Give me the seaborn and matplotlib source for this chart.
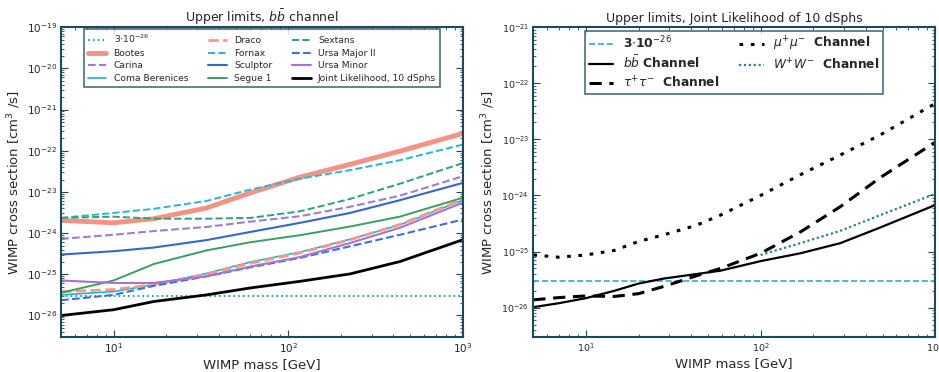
"""Upper limits on the WIMP annihilation cross section from dwarf spheroidals."""
import matplotlib
matplotlib.use("Agg")
import matplotlib.pyplot as plt
import numpy as np
import seaborn as sns

sns.set_style("white")
plt.rcParams["font.family"] = ["DejaVu Sans"]

# Values are log10(<sigma v> / cm^3 s^-1).
THERMAL_XS = 3e-26

MASS_L = [5, 10, 17, 34, 61, 117, 226, 436, 1000]
BOOTES = [-23.69, -23.75, -23.65, -23.39, -23.02, -22.64, -22.33, -22.01, -21.58]
CARINA = [-24.14, -24.04, -23.95, -23.85, -23.72, -23.59, -23.36, -23.09, -22.62]
COMA = [-25.50, -25.42, -25.25, -24.98, -24.70, -24.46, -24.15, -23.80, -23.20]
DRACO = [-25.42, -25.37, -25.25, -25.00, -24.73, -24.48, -24.16, -23.79, -23.18]
FORNAX = [-23.63, -23.51, -23.41, -23.22, -22.94, -22.68, -22.47, -22.23, -21.85]
SCULPTOR = [-24.52, -24.44, -24.35, -24.17, -23.97, -23.75, -23.51, -23.20, -22.78]
SEGUE1 = [-25.45, -25.15, -24.75, -24.42, -24.22, -24.05, -23.84, -23.60, -23.14]
SEXTANS = [-23.63, -23.60, -23.65, -23.65, -23.63, -23.47, -23.17, -22.80, -22.30]
UMA2 = [-25.63, -25.50, -25.28, -25.05, -24.83, -24.60, -24.32, -24.04, -23.67]
UMI = [-25.15, -25.21, -25.21, -25.05, -24.81, -24.58, -24.24, -23.87, -23.26]
JOINT = [-26.00, -25.86, -25.66, -25.50, -25.33, -25.17, -24.99, -24.69, -24.16]

MASS_R = [5, 7, 10, 14.5, 20, 28, 43, 59, 100, 169, 286, 485, 1000]
BB = [-25.99, -25.92, -25.83, -25.70, -25.57, -25.48, -25.40, -25.34, -25.17,
      -25.03, -24.85, -24.57, -24.17]
TAUTAU = [-25.86, -25.82, -25.79, -25.80, -25.75, -25.62, -25.43, -25.30, -25.03,
          -24.65, -24.20, -23.68, -23.05]
MUMU = [-25.06, -25.10, -25.06, -24.98, -24.82, -24.70, -24.53, -24.35, -24.00,
        -23.63, -23.28, -22.92, -22.36]
MASS_WW = [100, 169, 286, 485, 1000]
WW = [-25.06, -24.85, -24.63, -24.35, -23.97]

# (label, values, color, linestyle, linewidth)
DSPHS = [
    ("Bootes", BOOTES, "#f2806e", "-", 3.5),
    ("Carina", CARINA, "#9b7fd6", "--", 1.5),
    ("Coma Berenices", COMA, "#22b3c6", "-", 1.2),
    ("Draco", DRACO, "#f49a88", "--", 2.0),
    ("Fornax", FORNAX, "#25b7d9", "--", 1.4),
    ("Sculptor", SCULPTOR, "#3566d1", "-", 1.5),
    ("Segue 1", SEGUE1, "#3c9e62", "-", 1.4),
    ("Sextans", SEXTANS, "#2ea275", "--", 1.4),
    ("Ursa Major II", UMA2, "#3f6fdc", "--", 1.5),
    ("Ursa Minor", UMI, "#a374d4", "-", 1.5),
    ("Joint Likelihood, 10 dSphs", JOINT, "black", "-", 2.0),
]

SPINE = "#1d4a58"


def style_axes(ax, ylim, tick_size):
    ax.set_xscale("log")
    ax.set_yscale("log")
    ax.set_xlim(5, 1000)
    ax.set_ylim(*ylim)
    ax.tick_params(which="both", direction="in", bottom=True, left=True,
                   top=True, right=True, labelsize=tick_size, color=SPINE,
                   pad=3)
    ax.tick_params(which="major", length=5, width=0.8)
    ax.tick_params(which="minor", length=2.5, width=0.6)
    for s in ax.spines.values():
        s.set_color(SPINE)
        s.set_linewidth(1.5)
    ax.set_xlabel("WIMP mass [GeV]", fontsize=9.5, labelpad=2)
    ax.set_ylabel("WIMP cross section [cm$^3$ /s]", fontsize=9.5, labelpad=3)


fig = plt.figure(figsize=(9.39, 3.72), dpi=100)
ax1 = fig.add_axes([0.065, 0.094, 0.428, 0.833])
ax2 = fig.add_axes([0.568, 0.094, 0.428, 0.833])

# ---- left: individual dSphs, b-bbar channel
ax1.set_xscale("log")
ax1.set_yscale("log")
ax1.axhline(THERMAL_XS, color="#1fa0a0", linestyle=":", linewidth=1.3,
            label=r"3$\cdot$10$^{-26}$")
for label, vals, color, ls, lw in DSPHS:
    sns.lineplot(x=MASS_L, y=10.0 ** np.array(vals), ax=ax1, color=color,
                 linestyle=ls, linewidth=lw, label=label,
                 alpha=0.85 if label == "Bootes" else 1.0)
style_axes(ax1, (3e-27, 1e-19), 7.5)
ax1.set_title(r"Upper limits, $b\bar{b}$ channel", fontsize=9, pad=4)
leg1 = ax1.legend(loc="upper center", ncol=3, fontsize=6.6, frameon=True,
                  fancybox=False, borderpad=0.4, columnspacing=2.2,
                  handlelength=2.0, labelspacing=0.4, borderaxespad=0.2,
                  bbox_to_anchor=(0.5, 1.0))
leg1.get_frame().set_edgecolor(SPINE)
leg1.get_frame().set_linewidth(1.2)

# ---- right: joint likelihood, several channels
ax2.set_xscale("log")
ax2.set_yscale("log")
ax2.axhline(THERMAL_XS, color="#4aa3c2", linestyle="--", linewidth=1.2,
            label=r"3$\cdot$10$^{-26}$")
sns.lineplot(x=MASS_R, y=10.0 ** np.array(BB), ax=ax2, color="black",
             linewidth=1.6, label=r"$b\bar{b}$ Channel")
sns.lineplot(x=MASS_R, y=10.0 ** np.array(TAUTAU), ax=ax2, color="black",
             linewidth=2.2, linestyle=(0, (4, 2.5)),
             label=r"$\tau^{+}\tau^{-}$  Channel")
sns.lineplot(x=MASS_R, y=10.0 ** np.array(MUMU), ax=ax2, color="black",
             linewidth=2.2, linestyle=(0, (1.2, 2.5, 1.2, 2.5)),
             label=r"$\mu^{+}\mu^{-}$  Channel")
sns.lineplot(x=MASS_WW, y=10.0 ** np.array(WW), ax=ax2, color="#2a7f90",
             linewidth=1.6, linestyle=(0, (1, 1.2)),
             label=r"$W^{+}W^{-}$  Channel")
style_axes(ax2, (3e-27, 1e-21), 6.8)
ax2.set_title("Upper limits, Joint Likelihood of 10 dSphs", fontsize=9, pad=4)
leg2 = ax2.legend(loc="upper center", ncol=2, frameon=True,
                  fancybox=False, borderpad=0.3, columnspacing=1.6,
                  handlelength=2.0, labelspacing=0.3, borderaxespad=0.3,
                  prop={"weight": "bold", "size": 8.8},
                  bbox_to_anchor=(0.5, 1.0))
leg2.get_frame().set_edgecolor(SPINE)
leg2.get_frame().set_linewidth(1.2)

fig.savefig("out.png", dpi=100)
